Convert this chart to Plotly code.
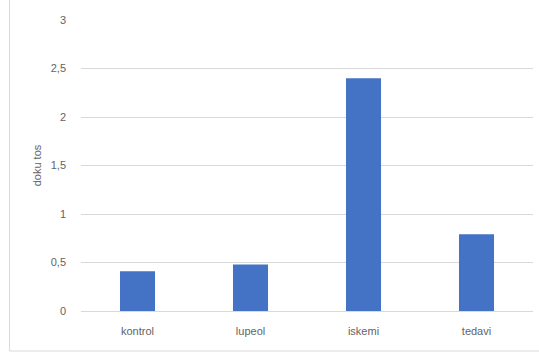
import plotly.graph_objects as go

# Doku TOS values per group
groups = ["kontrol", "lupeol", "iskemi", "tedavi"]
tos_values = [0.41, 0.48, 2.40, 0.79]

y_ticks = [0, 0.5, 1, 1.5, 2, 2.5, 3]
y_tick_labels = ["0", "0,5", "1", "1,5", "2", "2,5", "3"]

W, H = 539, 353
L, R, T, B = 81, 6, 20, 42
plot_w = W - L - R
plot_h = H - T - B

fig = go.Figure(
    go.Bar(
        x=groups,
        y=tos_values,
        marker=dict(color="#4472C4", line=dict(width=0)),
        width=0.31,
    )
)

text_font = dict(family="Liberation Sans, Arial, sans-serif", size=11, color="#636363")

fig.update_layout(
    width=W,
    height=H,
    margin=dict(l=L, r=R, t=T, b=B),
    paper_bgcolor="white",
    plot_bgcolor="white",
    showlegend=False,
    font=text_font,
    xaxis=dict(
        showgrid=False,
        showline=True,
        linecolor="#D9D9D9",
        linewidth=1,
        ticks="",
        ticklabelstandoff=10,
        tickfont=text_font,
    ),
    yaxis=dict(
        range=[0, 3],
        tickvals=y_ticks,
        ticktext=y_tick_labels,
        showgrid=True,
        gridcolor="#D9D9D9",
        gridwidth=1,
        zeroline=False,
        showline=False,
        ticks="",
        ticklabelstandoff=14,
        tickfont=text_font,
        title=dict(text="doku tos", font=text_font, standoff=6),
    ),
)

# thin outer frame of the chart area
fig.add_shape(
    type="rect",
    xref="paper",
    yref="paper",
    x0=(9.5 - L) / plot_w,
    x1=(W + 20 - L) / plot_w,
    y0=(T + plot_h - 351) / plot_h,
    y1=(T + plot_h + 5) / plot_h,
    line=dict(color="#D9D9D9", width=1),
    fillcolor="rgba(0,0,0,0)",
    layer="below",
)

fig.write_html("out.html")
